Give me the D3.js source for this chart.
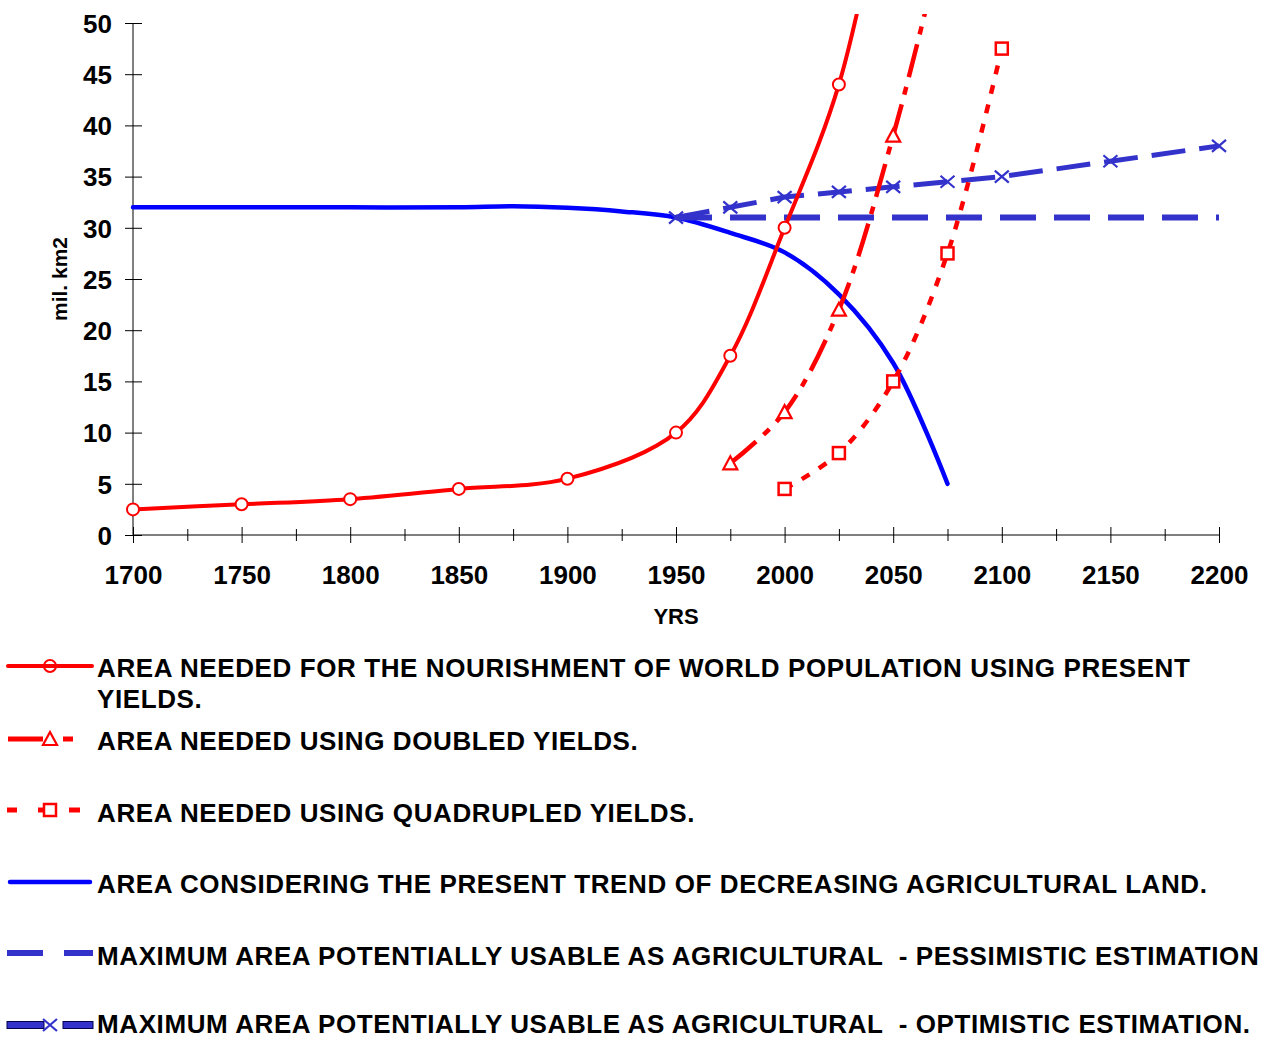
<!DOCTYPE html>
<html>
<head>
<meta charset="utf-8">
<script src="https://cdn.jsdelivr.net/npm/d3@7"></script>
<style>
  html, body { margin: 0; padding: 0; background: #fff; }
  svg { display: block; font-family: Arial, "Liberation Sans", sans-serif; font-weight: bold; }
</style>
</head>
<body>
<svg id="chart" width="1276" height="1041"></svg>
<script>
// ---------- data ----------
const presentYears  = [1700, 1750, 1800, 1850, 1900, 1950, 1975, 2000, 2025, 2050];
const presentValues = [2.5, 3, 3.5, 4.5, 5.5, 10, 17.5, 30, 44, 68];
const presentMarked = [true, true, true, true, true, true, true, true, true, false];

const doubledYears  = [1975, 2000, 2025, 2050, 2075];
const doubledValues = [7, 12, 22, 39, 60];
const doubledMarked = [true, true, true, true, false];

const quadYears  = [2000, 2025, 2050, 2075, 2100];
const quadValues = [4.5, 8, 15, 27.5, 47.5];

const trendYears  = [1700, 1750, 1800, 1850, 1875, 1900, 1925, 1950, 1975, 2000, 2025, 2050, 2075];
const trendValues = [32, 32, 32, 32, 32.1, 31.95, 31.6, 31, 29.5, 27.6, 23.5, 16.8, 5];

const pessYears  = [1950, 2000, 2050, 2100, 2150, 2200];
const pessValues = [31, 31, 31, 31, 31, 31];

const optYears  = [1950, 1975, 2000, 2025, 2050, 2075, 2100, 2150, 2200];
const optValues = [31, 32, 33, 33.5, 34, 34.5, 35, 36.5, 38];

const xTickLabels = [1700, 1750, 1800, 1850, 1900, 1950, 2000, 2050, 2100, 2150, 2200];
const yTickLabels = [0, 5, 10, 15, 20, 25, 30, 35, 40, 45, 50];

const legendLabels = [
  ["AREA NEEDED FOR THE NOURISHMENT OF WORLD POPULATION USING PRESENT", "YIELDS."],
  ["AREA NEEDED USING DOUBLED YIELDS."],
  ["AREA NEEDED USING QUADRUPLED YIELDS."],
  ["AREA CONSIDERING THE PRESENT TREND OF DECREASING AGRICULTURAL LAND."],
  ["MAXIMUM AREA POTENTIALLY USABLE AS AGRICULTURAL  - PESSIMISTIC ESTIMATION"],
  ["MAXIMUM AREA POTENTIALLY USABLE AS AGRICULTURAL  - OPTIMISTIC ESTIMATION."]
];

// ---------- setup ----------
const RED = "#ff0000", BLUE = "#0000ff", MBLUE = "#3333cc";
const svg = d3.select("#chart");
const x = d3.scaleLinear().domain([1700, 2200]).range([133, 1219]);
const y = d3.scaleLinear().domain([0, 50]).range([535, 23]);

svg.append("defs").append("clipPath").attr("id", "plotclip")
  .append("rect").attr("x", 100).attr("y", 14).attr("width", 1176).attr("height", 540);

// ---------- axes ----------
const yAxis = d3.axisLeft(y).tickValues(yTickLabels).tickSize(8).tickPadding(0).tickFormat(d => d);
const gy = svg.append("g").attr("transform", `translate(${x(1700)},0)`).call(yAxis);
gy.select(".domain").attr("d", `M0,${y(50)}V${y(0)}`).attr("stroke", "#000");
gy.selectAll(".tick line").attr("x1", -8).attr("x2", 9).attr("stroke", "#000");
gy.selectAll(".tick text").attr("x", -21).attr("dy", "0.36em")
  .style("font-size", "26px").style("font-weight", "bold").attr("fill", "#000");

const xAxisMinor = d3.axisBottom(x).tickValues(d3.range(1725, 2200, 50)).tickSize(6).tickFormat("");
const gxm = svg.append("g").attr("transform", `translate(0,${y(0)})`).call(xAxisMinor);
gxm.select(".domain").remove();
gxm.selectAll(".tick line").attr("y1", -6).attr("y2", 6).attr("stroke", "#000");

const xAxis = d3.axisBottom(x).tickValues(xTickLabels).tickSize(8).tickFormat(d => d);
const gx = svg.append("g").attr("transform", `translate(0,${y(0)})`).call(xAxis);
gx.select(".domain").attr("d", `M${x(1700)},0H${x(2200)}`).attr("stroke", "#000");
gx.selectAll(".tick line").attr("y1", -8).attr("y2", 8).attr("stroke", "#000");
gx.selectAll(".tick text").attr("y", 31).attr("dy", "0.71em")
  .style("font-size", "26px").style("font-weight", "bold").attr("fill", "#000");

svg.append("text").attr("x", 676).attr("y", 624).attr("text-anchor", "middle")
  .style("font-size", "22px").text("YRS");
svg.append("text").attr("transform", `translate(67,279) rotate(-90)`).attr("text-anchor", "middle")
  .style("font-size", "21px").text("mil. km2");

// ---------- series ----------
const plot = svg.append("g").attr("clip-path", "url(#plotclip)");

function series(years, values, curve) {
  return d3.line().x((d, i) => x(years[i])).y(d => y(d)).curve(curve)(values);
}

// blue trend
plot.append("path").attr("d", series(trendYears, trendValues, d3.curveCatmullRom.alpha(0.5)))
  .attr("fill", "none").attr("stroke", BLUE).attr("stroke-width", 4.5).attr("stroke-linecap", "round");

// pessimistic
plot.append("path").attr("d", series(pessYears, pessValues, d3.curveLinear))
  .attr("fill", "none").attr("stroke", MBLUE).attr("stroke-width", 6).attr("stroke-dasharray", "36,18");

// optimistic
plot.append("path").attr("d", series(optYears, optValues, d3.curveLinear))
  .attr("fill", "none").attr("stroke", MBLUE).attr("stroke-width", 5).attr("stroke-dasharray", "34,14");

// red present
plot.append("path").attr("d", series(presentYears, presentValues, d3.curveCatmullRom.alpha(0.5)))
  .attr("fill", "none").attr("stroke", RED).attr("stroke-width", 4);

// red doubled (dash-dot)
plot.append("path").attr("d", series(doubledYears, doubledValues, d3.curveCatmullRom.alpha(0.5)))
  .attr("fill", "none").attr("stroke", RED).attr("stroke-width", 4.5).attr("stroke-dasharray", "34,10,8,10");

// red quadrupled (dotted)
plot.append("path").attr("d", series(quadYears, quadValues, d3.curveCatmullRom.alpha(0.5)))
  .attr("fill", "none").attr("stroke", RED).attr("stroke-width", 4.5).attr("stroke-dasharray", "9,11");

// ---------- markers ----------
function circleMarker(g, cx, cy, fill) {
  g.append("circle").attr("cx", cx).attr("cy", cy).attr("r", 6)
    .attr("fill", fill).attr("stroke", RED).attr("stroke-width", 2);
}
function triMarker(g, cx, cy) {
  g.append("path").attr("d", `M${cx},${cy - 7}L${cx + 7},${cy + 6}L${cx - 7},${cy + 6}Z`)
    .attr("fill", "#fff").attr("stroke", RED).attr("stroke-width", 2.2);
}
function sqMarker(g, cx, cy) {
  g.append("rect").attr("x", cx - 6).attr("y", cy - 6).attr("width", 12).attr("height", 12)
    .attr("fill", "#fff").attr("stroke", RED).attr("stroke-width", 2.5);
}
function xMarker(g, cx, cy) {
  g.append("path").attr("d", `M${cx - 7},${cy - 6}L${cx + 7},${cy + 6}M${cx - 7},${cy + 6}L${cx + 7},${cy - 6}`)
    .attr("stroke", MBLUE).attr("stroke-width", 2.2).attr("fill", "none");
}

const mk = svg.append("g");
optYears.forEach((yr, i) => xMarker(mk, x(yr), y(optValues[i])));
presentYears.forEach((yr, i) => { if (presentMarked[i]) circleMarker(mk, x(yr), y(presentValues[i]), "#fff"); });
doubledYears.forEach((yr, i) => { if (doubledMarked[i]) triMarker(mk, x(yr), y(doubledValues[i])); });
quadYears.forEach((yr, i) => sqMarker(mk, x(yr), y(quadValues[i])));

// ---------- legend ----------
const lg = svg.append("g");
const symY = [666, 739, 810, 882, 953, 1025];
const txtY = [677, 750, 822, 893, 965, 1033];
const lx0 = 8, lx1 = 92, lmx = 50;

// 1 present
lg.append("line").attr("x1", lx0).attr("x2", lx1).attr("y1", symY[0]).attr("y2", symY[0])
  .attr("stroke", RED).attr("stroke-width", 4).attr("stroke-linecap", "round");
circleMarker(lg, lmx, symY[0], "none");
// 2 doubled
lg.append("line").attr("x1", lx0).attr("x2", 43).attr("y1", symY[1]).attr("y2", symY[1]).attr("stroke", RED).attr("stroke-width", 5);
lg.append("line").attr("x1", 63).attr("x2", 73).attr("y1", symY[1]).attr("y2", symY[1]).attr("stroke", RED).attr("stroke-width", 5);
triMarker(lg, lmx, symY[1]);
// 3 quadrupled
[[7, 17], [38, 44], [69, 80]].forEach(s => lg.append("line").attr("x1", s[0]).attr("x2", s[1])
  .attr("y1", symY[2]).attr("y2", symY[2]).attr("stroke", RED).attr("stroke-width", 5));
sqMarker(lg, lmx, symY[2]);
// 4 trend
lg.append("line").attr("x1", lx0 + 2).attr("x2", lx1 - 2).attr("y1", symY[3]).attr("y2", symY[3])
  .attr("stroke", BLUE).attr("stroke-width", 4.5).attr("stroke-linecap", "round");
// 5 pessimistic
[[7, 43], [64, 93]].forEach(s => lg.append("line").attr("x1", s[0]).attr("x2", s[1])
  .attr("y1", symY[4]).attr("y2", symY[4]).attr("stroke", MBLUE).attr("stroke-width", 6));
// 6 optimistic
[[7, 44], [63, 93]].forEach(s => {
  lg.append("rect").attr("x", s[0]).attr("y", symY[5] - 3.5).attr("width", s[1] - s[0]).attr("height", 7)
    .attr("fill", MBLUE).attr("stroke", "#000050").attr("stroke-width", 1);
});
xMarker(lg, lmx, symY[5]);

legendLabels.forEach((lines, i) => {
  lines.forEach((t, j) => {
    lg.append("text").attr("x", 97).attr("y", txtY[i] + j * 31)
      .attr("xml:space", "preserve").style("white-space", "pre")
      .style("font-size", "26px").style("letter-spacing", "0.6px").attr("fill", "#000").text(t);
  });
});
</script>
</body>
</html>
